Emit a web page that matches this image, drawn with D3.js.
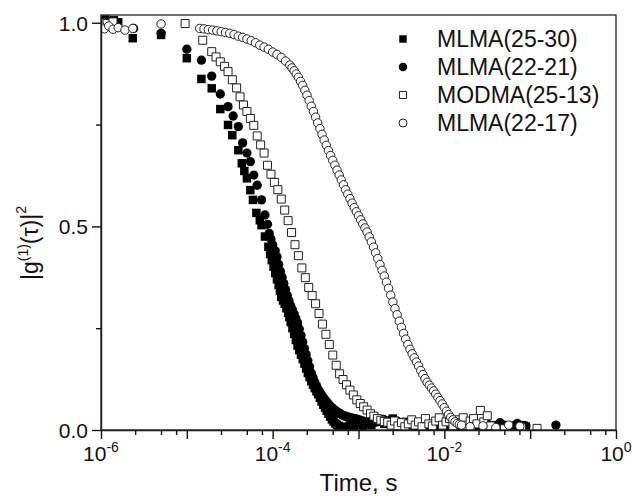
<!DOCTYPE html>
<html>
<head>
<meta charset="utf-8">
<script src="https://cdn.jsdelivr.net/npm/d3@7"></script>
<style>
  html, body { margin: 0; padding: 0; background: #fff; }
  svg { display: block; font-family: "Liberation Sans", Arial, sans-serif; }
</style>
</head>
<body>
<svg id="chart" width="632" height="496"></svg>
<script>
(function () {
  "use strict";

  const seriesNames = ["MLMA(25-30)", "MLMA(22-21)", "MODMA(25-13)", "MLMA(22-17)"];

  // [log10(t / s), |g1|^2]
  const mlma2530 = [
    [-6.00, 1.005], [-5.95, 1.008], [-5.90, 1.003], [-5.85, 1.006], [-5.80, 1.001],
    [-5.63, 0.962], [-5.30, 0.970], [-5.00, 0.913], [-4.83, 0.862], [-4.71, 0.839],
    [-4.61, 0.788], [-4.52, 0.749], [-4.47, 0.724], [-4.40, 0.687], [-4.36, 0.655],
    [-4.33, 0.636], [-4.30, 0.618], [-4.26, 0.589], [-4.23, 0.565], [-4.19, 0.533],
    [-4.15, 0.515], [-4.13, 0.503], [-4.09, 0.475], [-4.05, 0.450], [-4.03, 0.432],
    [-4.01, 0.417], [-3.99, 0.401], [-3.97, 0.385], [-3.95, 0.370], [-3.93, 0.356],
    [-3.915, 0.342], [-3.90, 0.327], [-3.88, 0.318], [-3.86, 0.310], [-3.84, 0.299],
    [-3.82, 0.288], [-3.805, 0.277], [-3.79, 0.265], [-3.77, 0.250], [-3.75, 0.236],
    [-3.73, 0.221], [-3.71, 0.207], [-3.69, 0.196], [-3.67, 0.185], [-3.65, 0.174],
    [-3.63, 0.163], [-3.61, 0.151], [-3.59, 0.140], [-3.57, 0.130], [-3.55, 0.120],
    [-3.53, 0.111], [-3.51, 0.103], [-3.49, 0.095], [-3.47, 0.088], [-3.45, 0.079],
    [-3.43, 0.070], [-3.41, 0.062], [-3.39, 0.055], [-3.37, 0.047], [-3.35, 0.040],
    [-3.33, 0.033], [-3.31, 0.026], [-3.29, 0.021], [-3.27, 0.016], [-3.25, 0.013],
    [-3.23, 0.010], [-3.19, 0.008], [-3.15, 0.005], [-3.10, 0.012], [-3.05, 0.006],
    [-3.00, 0.015], [-2.95, 0.010], [-2.90, 0.020], [-2.85, 0.012], [-2.80, 0.025],
    [-2.75, 0.020], [-2.70, 0.015], [-2.65, 0.022], [-2.60, 0.028], [-2.55, 0.018],
    [-2.50, 0.010], [-2.45, 0.020], [-2.40, 0.012], [-2.30, 0.008], [-2.20, 0.005],
    [-2.10, 0.010], [-2.00, 0.006], [-1.90, 0.004], [-1.80, 0.003], [-1.60, 0.010],
    [-1.50, 0.005], [-1.40, 0.012], [-1.30, 0.010], [-1.20, 0.006], [-1.10, 0.012],
    [-1.05, 0.008]
  ];

  const mlma2221 = [
    [-6.00, 1.000], [-5.95, 1.002], [-5.90, 0.998], [-5.85, 1.001], [-5.62, 0.986],
    [-5.30, 0.974], [-5.00, 0.935], [-4.83, 0.908], [-4.71, 0.869], [-4.61, 0.825],
    [-4.52, 0.794], [-4.46, 0.771], [-4.40, 0.745], [-4.35, 0.705], [-4.30, 0.680],
    [-4.26, 0.659], [-4.22, 0.626], [-4.18, 0.601], [-4.13, 0.565], [-4.09, 0.528],
    [-4.06, 0.505], [-4.04, 0.483], [-4.02, 0.469], [-4.00, 0.455], [-3.97, 0.440],
    [-3.95, 0.425], [-3.93, 0.407], [-3.91, 0.390], [-3.89, 0.375], [-3.87, 0.360],
    [-3.85, 0.345], [-3.83, 0.330], [-3.81, 0.317], [-3.79, 0.305], [-3.77, 0.295],
    [-3.75, 0.285], [-3.73, 0.274], [-3.71, 0.263], [-3.69, 0.248], [-3.67, 0.232],
    [-3.65, 0.216], [-3.63, 0.200], [-3.61, 0.185], [-3.59, 0.170], [-3.57, 0.155],
    [-3.55, 0.140], [-3.53, 0.129], [-3.51, 0.118], [-3.49, 0.109], [-3.47, 0.100],
    [-3.45, 0.093], [-3.43, 0.086], [-3.41, 0.080], [-3.39, 0.074], [-3.37, 0.069],
    [-3.35, 0.064], [-3.33, 0.059], [-3.31, 0.055], [-3.29, 0.051], [-3.27, 0.048],
    [-3.25, 0.045], [-3.23, 0.042], [-3.21, 0.040], [-3.19, 0.037], [-3.17, 0.035],
    [-3.15, 0.034], [-3.13, 0.032], [-3.11, 0.031], [-3.09, 0.030], [-3.07, 0.029],
    [-3.05, 0.028], [-3.03, 0.027], [-3.01, 0.026], [-2.99, 0.025], [-2.97, 0.023],
    [-2.95, 0.022], [-2.93, 0.021], [-2.91, 0.020], [-2.89, 0.019], [-2.87, 0.019],
    [-2.85, 0.018], [-2.83, 0.018], [-2.81, 0.019], [-2.79, 0.020], [-2.77, 0.021],
    [-2.75, 0.022], [-2.73, 0.024], [-2.71, 0.026], [-2.69, 0.022], [-2.67, 0.020],
    [-2.65, 0.022], [-2.63, 0.024], [-2.61, 0.020], [-2.59, 0.018], [-2.57, 0.020],
    [-2.55, 0.022], [-2.53, 0.018], [-2.51, 0.015], [-2.45, 0.012], [-2.35, 0.008],
    [-2.25, 0.010], [-2.10, 0.006], [-1.95, 0.008], [-1.80, 0.004], [-1.60, 0.012],
    [-1.50, 0.015], [-1.45, 0.010], [-1.35, 0.018], [-1.30, 0.012], [-1.20, 0.010],
    [-1.15, 0.016], [-1.05, 0.010], [-0.70, 0.012]
  ];

  const modma2513 = [
    [-6.00, 1.000], [-5.93, 0.998], [-5.86, 1.002], [-5.02, 0.998], [-4.815, 0.957],
    [-4.71, 0.929], [-4.66, 0.916], [-4.61, 0.904], [-4.56, 0.893], [-4.52, 0.880],
    [-4.47, 0.860], [-4.42, 0.840], [-4.38, 0.818], [-4.34, 0.798], [-4.30, 0.782],
    [-4.26, 0.765], [-4.22, 0.748], [-4.18, 0.722], [-4.14, 0.700], [-4.10, 0.680],
    [-4.06, 0.650], [-4.02, 0.628], [-3.98, 0.608], [-3.94, 0.590], [-3.90, 0.567],
    [-3.86, 0.540], [-3.82, 0.514], [-3.78, 0.485], [-3.74, 0.455], [-3.70, 0.428],
    [-3.66, 0.398], [-3.62, 0.374], [-3.58, 0.350], [-3.54, 0.330], [-3.50, 0.310],
    [-3.46, 0.286], [-3.42, 0.260], [-3.38, 0.235], [-3.34, 0.210], [-3.30, 0.184],
    [-3.26, 0.159], [-3.22, 0.138], [-3.18, 0.124], [-3.14, 0.111], [-3.10, 0.098],
    [-3.06, 0.086], [-3.02, 0.074], [-2.98, 0.065], [-2.94, 0.057], [-2.90, 0.049],
    [-2.86, 0.040], [-2.82, 0.034], [-2.78, 0.028], [-2.74, 0.024], [-2.70, 0.021],
    [-2.66, 0.019], [-2.62, 0.012], [-2.58, 0.022], [-2.54, 0.010], [-2.50, 0.018],
    [-2.46, 0.008], [-2.42, 0.015], [-2.38, 0.025], [-2.34, 0.012], [-2.30, 0.020],
    [-2.26, 0.008], [-2.22, 0.028], [-2.18, 0.015], [-2.14, 0.010], [-2.10, 0.022],
    [-2.06, 0.030], [-2.02, 0.012], [-1.98, 0.020], [-1.94, 0.028], [-1.90, 0.010],
    [-1.86, 0.025], [-1.82, 0.018], [-1.78, 0.030], [-1.74, 0.012], [-1.70, 0.022],
    [-1.66, 0.028], [-1.62, 0.015], [-1.58, 0.048], [-1.54, 0.020], [-1.50, 0.035],
    [-1.46, 0.010], [-1.30, 0.003], [-1.10, 0.005], [-0.92, 0.004]
  ];

  const mlma2217 = [
    [-6.00, 0.990], [-5.96, 0.985], [-5.91, 0.992], [-5.86, 0.984], [-5.80, 0.988],
    [-5.72, 0.982], [-5.63, 0.986], [-5.30, 0.997], [-4.85, 0.986], [-4.80, 0.985],
    [-4.75, 0.983], [-4.70, 0.982], [-4.65, 0.980], [-4.60, 0.978], [-4.55, 0.976],
    [-4.50, 0.974], [-4.45, 0.971], [-4.40, 0.967], [-4.35, 0.964], [-4.30, 0.960],
    [-4.25, 0.956], [-4.20, 0.951], [-4.15, 0.945], [-4.10, 0.940], [-4.05, 0.935],
    [-4.00, 0.928], [-3.95, 0.922], [-3.90, 0.915], [-3.85, 0.906], [-3.80, 0.896],
    [-3.775, 0.889], [-3.750, 0.882], [-3.725, 0.874], [-3.700, 0.866], [-3.675, 0.856],
    [-3.650, 0.846], [-3.625, 0.834], [-3.600, 0.822], [-3.575, 0.809], [-3.550, 0.795],
    [-3.525, 0.782], [-3.500, 0.768], [-3.475, 0.754], [-3.450, 0.740], [-3.425, 0.726],
    [-3.400, 0.712], [-3.375, 0.699], [-3.350, 0.686], [-3.325, 0.674], [-3.300, 0.662],
    [-3.275, 0.650], [-3.250, 0.638], [-3.225, 0.626], [-3.200, 0.614], [-3.175, 0.602],
    [-3.150, 0.590], [-3.125, 0.579], [-3.100, 0.568], [-3.075, 0.557], [-3.050, 0.546],
    [-3.025, 0.536], [-3.000, 0.526], [-2.975, 0.516], [-2.950, 0.506], [-2.925, 0.496],
    [-2.900, 0.486], [-2.875, 0.474], [-2.850, 0.462], [-2.825, 0.449], [-2.800, 0.435],
    [-2.775, 0.421], [-2.750, 0.406], [-2.725, 0.392], [-2.700, 0.378], [-2.675, 0.363],
    [-2.650, 0.348], [-2.625, 0.331], [-2.600, 0.314], [-2.575, 0.298], [-2.550, 0.283],
    [-2.525, 0.267], [-2.500, 0.252], [-2.475, 0.237], [-2.450, 0.223], [-2.425, 0.210],
    [-2.400, 0.198], [-2.375, 0.187], [-2.350, 0.177], [-2.325, 0.167], [-2.300, 0.157],
    [-2.275, 0.146], [-2.250, 0.136], [-2.225, 0.126], [-2.200, 0.117], [-2.175, 0.110],
    [-2.150, 0.103], [-2.125, 0.096], [-2.100, 0.088], [-2.075, 0.080], [-2.050, 0.072],
    [-2.025, 0.064], [-2.000, 0.055], [-1.975, 0.046], [-1.950, 0.038], [-1.925, 0.031],
    [-1.900, 0.025], [-1.875, 0.020], [-1.850, 0.016], [-1.825, 0.014], [-1.800, 0.012],
    [-1.70, 0.008], [-1.55, 0.010], [-1.40, 0.006], [-1.25, 0.012], [-1.12, 0.009]
  ];

  const xMajorExp = [-6, -5, -4, -3, -2, -1, 0];
  const xLabelExp = [-6, -4, -2, 0];
  const xMinorMult = [2.5, 5, 7.5];
  const yMajor = [0, 0.5, 1.0];
  const yMinor = [0.25, 0.75];

  const width = 632;
  const height = 496;
  const margin = { top: 15, right: 16, bottom: 66, left: 101 };
  const iw = width - margin.left - margin.right;
  const ih = height - margin.top - margin.bottom;

  const x = d3.scaleLog().domain([1e-6, 1]).range([0, iw]);
  const y = d3.scaleLinear().domain([0, 1.019]).range([ih, 0]);

  const svg = d3.select("#chart");
  const plot = svg.append("g").attr("transform", `translate(${margin.left},${margin.top})`);

  plot.append("clipPath").attr("id", "plot-clip")
    .append("rect").attr("width", iw).attr("height", ih);

  function toPoints(rows) {
    return rows.map((r) => ({ t: Math.pow(10, r[0]), g: r[1] }));
  }

  const series = [
    { name: seriesNames[0], data: toPoints(mlma2530), shape: "square", filled: true, size: 72 },
    { name: seriesNames[1], data: toPoints(mlma2221), shape: "circle", filled: true, size: 68 },
    { name: seriesNames[2], data: toPoints(modma2513), shape: "square", filled: false, size: 64 },
    { name: seriesNames[3], data: toPoints(mlma2217), shape: "circle", filled: false, size: 56 },
  ];

  const marks = plot.append("g").attr("clip-path", "url(#plot-clip)");
  series.forEach((s) => {
    const sym = d3.symbol()
      .type(s.shape === "square" ? d3.symbolSquare : d3.symbolCircle)
      .size(s.size);
    marks.append("g")
      .selectAll("path")
      .data(s.data)
      .join("path")
      .attr("transform", (d) => `translate(${x(d.t)},${y(d.g)})`)
      .attr("d", sym)
      .attr("fill", s.filled ? "#000" : "#fff")
      .attr("stroke", s.filled ? "none" : "#222")
      .attr("stroke-width", 1);
  });

  // axes
  const xMinor = [];
  xMajorExp.slice(0, -1).forEach((e) => {
    xMinorMult.forEach((m) => xMinor.push(m * Math.pow(10, e)));
  });

  const xAxisG = plot.append("g").attr("transform", `translate(0,${ih})`);
  xAxisG.call(d3.axisBottom(x)
    .tickValues(xMajorExp.map((e) => Math.pow(10, e)))
    .tickSize(9).tickSizeOuter(0).tickFormat(""));
  xAxisG.append("g").call(d3.axisBottom(x)
    .tickValues(xMinor).tickSize(5).tickSizeOuter(0).tickFormat(""))
    .select(".domain").remove();

  const yAxisG = plot.append("g");
  yAxisG.call(d3.axisLeft(y).tickValues(yMajor).tickSize(9).tickSizeOuter(0)
    .tickFormat(d3.format(".1f")));
  yAxisG.append("g").call(d3.axisLeft(y).tickValues(yMinor).tickSize(5).tickSizeOuter(0)
    .tickFormat(""))
    .select(".domain").remove();

  svg.selectAll(".domain, .tick line").attr("stroke", "#111").attr("stroke-width", 1.4);
  yAxisG.selectAll(".tick text")
    .attr("x", -13)
    .attr("dy", "0.36em")
    .attr("fill", "#111")
    .style("font-family", "'Liberation Sans', Arial, sans-serif")
    .style("font-size", "21px");

  xLabelExp.forEach((e) => {
    const label = xAxisG.append("text")
      .attr("x", x(Math.pow(10, e)))
      .attr("y", 31)
      .attr("text-anchor", "middle")
      .attr("fill", "#111")
      .style("font-size", "21px");
    label.append("tspan").text("10");
    label.append("tspan").attr("dy", -9).style("font-size", "14px").text(String(e));
  });

  // frame
  plot.append("rect")
    .attr("width", iw).attr("height", ih)
    .attr("fill", "none").attr("stroke", "#222").attr("stroke-width", 1.3);

  // axis titles
  svg.append("text")
    .attr("x", margin.left + iw / 2)
    .attr("y", 491)
    .attr("text-anchor", "middle")
    .attr("fill", "#111")
    .style("font-size", "24px")
    .text("Time, s");

  const yTitle = svg.append("text")
    .attr("transform", "translate(38,243) rotate(-90)")
    .attr("text-anchor", "middle")
    .attr("fill", "#111")
    .style("font-size", "23px");
  yTitle.append("tspan").text("|g");
  yTitle.append("tspan").attr("dy", -10).style("font-size", "14px").text("(1)");
  yTitle.append("tspan").attr("dy", 10).text("(τ)|");
  yTitle.append("tspan").attr("dy", -12).style("font-size", "14px").text("2");

  // legend
  const legend = svg.append("g");
  const legendX = 403;
  const legendBase = [47, 75, 103, 131];
  series.forEach((s, i) => {
    const sym = d3.symbol()
      .type(s.shape === "square" ? d3.symbolSquare : d3.symbolCircle)
      .size(s.filled ? 56 : 50);
    legend.append("path")
      .attr("transform", `translate(${legendX},${legendBase[i] - 8})`)
      .attr("d", sym)
      .attr("fill", s.filled ? "#000" : "#fff")
      .attr("stroke", s.filled ? "none" : "#222")
      .attr("stroke-width", 1);
    legend.append("text")
      .attr("x", 437)
      .attr("y", legendBase[i])
      .attr("fill", "#111")
      .style("font-size", "23px")
      .text(s.name);
  });
})();
</script>
</body>
</html>
